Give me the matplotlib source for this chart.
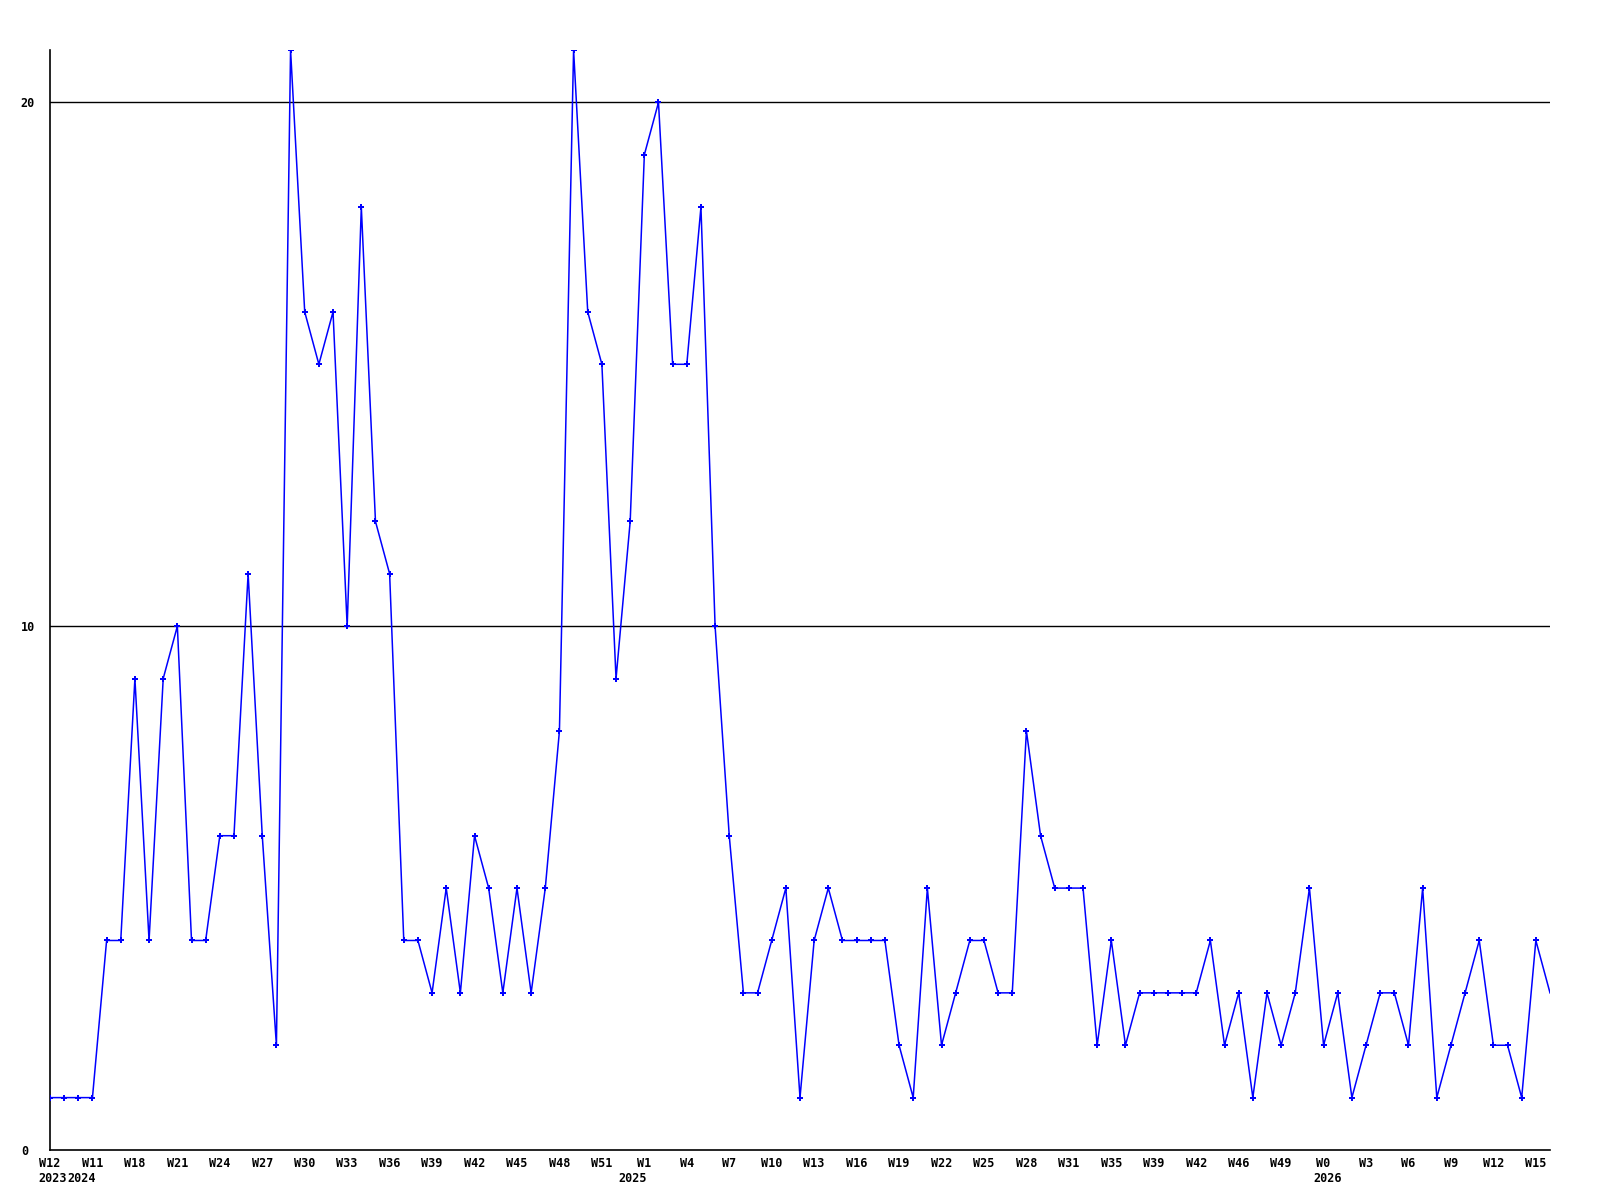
import matplotlib
matplotlib.use("Agg")
import matplotlib.pyplot as plt

# weekly counts
counts = [1, 1, 1, 1, 4, 4, 9, 4, 9, 10, 4, 4, 6, 6, 11, 6, 2, 21, 16, 15,
          16, 10, 18, 12, 11, 4, 4, 3, 5, 3, 6, 5, 3, 5, 3, 5, 8, 21, 16, 15,
          9, 12, 19, 20, 15, 15, 18, 10, 6, 3, 3, 4, 5, 1, 4, 5, 4, 4, 4, 4,
          2, 1, 5, 2, 3, 4, 4, 3, 3, 8, 6, 5, 5, 5, 2, 4, 2, 3, 3, 3,
          3, 3, 4, 2, 3, 1, 3, 2, 3, 5, 2, 3, 1, 2, 3, 3, 2, 5, 1, 2,
          3, 4, 2, 2, 1, 4, 3]

week_labels = ['W12', 'W11', 'W18', 'W21', 'W24', 'W27', 'W30', 'W33', 'W36',
               'W39', 'W42', 'W45', 'W48', 'W51', 'W1', 'W4', 'W7', 'W10',
               'W13', 'W16', 'W19', 'W22', 'W25', 'W28', 'W31', 'W35', 'W39',
               'W42', 'W46', 'W49', 'W0', 'W3', 'W6', 'W9', 'W12', 'W15']
label_step = 3

years = ['2023', '2024', '2025', '2026']
year_pos = [0.2, 2.2, 41.2, 90.3]

y_ticks = [0, 10, 20]

font = 'DejaVu Sans Mono'

fig = plt.figure(figsize=(16, 12), dpi=100)
ax = fig.add_axes([50 / 1600, 50 / 1200, 1500 / 1600, 1100 / 1200])

x = list(range(len(counts)))
ax.plot(x, counts, color='#0000ff', lw=1.1, marker='P', ms=4, mew=0,
        markevery=slice(0, len(counts) - 1), zorder=3)

for v in y_ticks[1:]:
    ax.axhline(v, color='black', lw=1, zorder=1)

ax.set_xlim(0, len(counts) - 1)
ax.set_ylim(0, max(counts))

ax.spines['top'].set_visible(False)
ax.spines['right'].set_visible(False)
ax.spines['left'].set_linewidth(1.2)
ax.spines['bottom'].set_linewidth(1.2)

ax.set_yticks(y_ticks)
ax.set_yticklabels([str(v) for v in y_ticks], fontfamily=font,
                   fontweight='bold', fontsize=8.5)
for lab in ax.get_yticklabels():
    lab.set_horizontalalignment('left')
ax.tick_params(axis='y', length=0, pad=21)

ax.set_xticks(range(0, len(week_labels) * label_step, label_step))
ax.set_xticklabels(week_labels, fontfamily=font, fontweight='bold',
                   fontsize=8.5)
ax.tick_params(axis='x', length=0, pad=5)

for yr, p in zip(years, year_pos):
    ax.text(p, -0.02, yr, transform=ax.get_xaxis_transform(), ha='center',
            va='top', fontfamily=font, fontweight='bold', fontsize=8.5)

fig.savefig('out.png', dpi=100)
